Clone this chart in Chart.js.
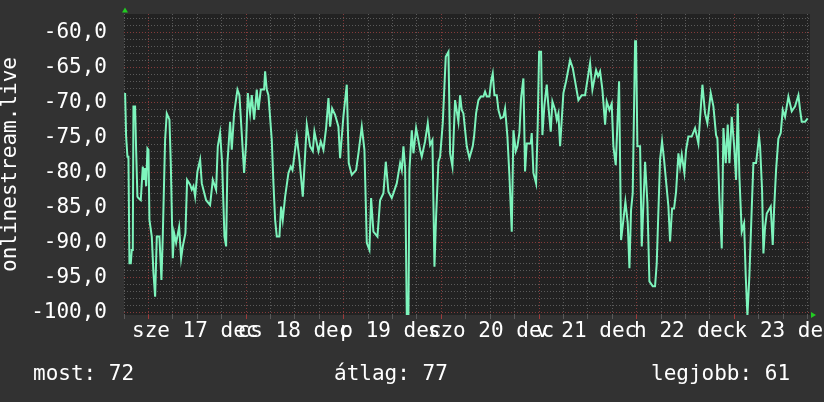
<!DOCTYPE html>
<html><head><meta charset="utf-8">
<script src="https://cdn.jsdelivr.net/npm/chart.js@4/dist/chart.umd.min.js"></script>
<style>html,body{margin:0;padding:0;background:#323232;overflow:hidden}canvas{display:block}</style>
</head><body>
<canvas id="c" width="824" height="402"></canvas>
<script>
// time in hours from midnight of "sze 17"
const hours = [
-5.73,-5.48,-5.15,-4.91,-4.66,-4.33,-4.09,-3.84,-3.68,-3.27,
-3.02,-2.70,-2.45,-1.88,-1.38,-1.06,-0.81,-0.56,-0.24,0.01,
0.25,0.83,1.24,1.65,2.06,2.71,3.20,3.53,4.10,4.51,
5.17,5.50,5.99,6.32,6.81,7.55,8.04,8.45,9.10,9.51,
10.25,10.66,11.07,11.48,12.05,12.71,13.12,14.18,15.16,15.82,
16.64,17.05,17.62,18.11,18.69,19.10,19.42,20.08,20.49,21.06,
21.88,22.37,23.52,24.01,24.42,24.99,25.40,25.98,26.63,27.04,
27.62,28.43,28.68,29.09,29.50,30.32,30.73,31.14,31.55,32.20,
32.61,33.02,33.60,34.42,34.99,35.40,35.64,36.46,37.12,37.94,
38.92,39.74,40.40,40.80,41.79,42.36,43.02,43.67,44.25,44.66,
45.15,45.88,46.70,47.11,47.93,48.75,49.24,49.98,51.04,51.62,
52.44,53.09,53.67,54.32,54.73,55.30,56.29,56.94,57.76,58.34,
58.99,59.81,61.04,61.86,62.27,62.68,63.09,63.50,63.91,64.15,
64.73,65.14,65.79,66.77,67.18,68.00,68.66,69.23,69.80,70.30,
70.71,71.28,71.69,72.34,73.08,73.74,74.15,74.72,75.37,76.19,
76.60,77.01,77.42,78.24,78.90,
79.71,80.04,80.53,81.11,81.68,82.33,82.74,83.15,83.81,84.22,
84.63,85.04,85.61,86.02,86.59,87.25,87.66,88.23,88.72,89.30,
89.71,90.28,90.69,91.18,91.59,92.16,92.57,92.98,93.97,94.21,
94.62,95.28,95.69,96.02,96.51,96.83,97.33,97.90,98.31,98.88,
99.29,99.95,100.36,100.77,101.18,101.99,102.65,103.63,104.29,105.68,
106.50,107.32,108.55,109.12,110.02,110.52,111.01,111.58,112.24,112.64,
113.30,113.87,114.28,114.86,115.68,116.17,116.74,117.23,117.81,118.22,
118.62,119.03,119.61,119.85,120.18,120.84,121.25,122.07,122.64,123.13,
123.95,124.52,124.93,125.75,126.24,126.73,127.80,128.21,128.70,129.19,
129.68,130.26,130.67,131.08,131.73,132.14,132.71,133.53,134.35,135.17,
135.58,136.16,136.81,137.38,138.20,138.86,139.51,139.84,140.33,140.91,
141.32,141.89,142.38,142.79,143.37,143.94,144.43,144.84,145.25,145.82,
146.40,146.81,147.22,147.71,148.28,148.69,149.35,150.08,150.33,150.82,
151.15,151.56,151.97,152.95,153.44,153.77,154.26,154.83,155.41,155.90,
156.47,157.29,158.11,158.93,159.75,160.16,160.57,161.39,162.04
];
const signal = [
-68.6,-74.8,-77.7,-77.7,-92.9,-92.9,-91.0,-91.0,-70.5,-70.5,
-76.7,-83.4,-83.6,-83.9,-79.1,-81.0,-79.3,-81.9,-76.5,-76.7,
-86.7,-89.1,-94.3,-97.7,-89.1,-89.1,-95.3,-89.1,-75.3,-71.5,
-72.4,-78.6,-92.2,-88.6,-90.0,-87.7,-92.2,-90.5,-88.6,-81.0,
-81.7,-82.4,-81.9,-83.4,-79.8,-78.1,-81.5,-83.9,-84.6,-81.0,
-82.4,-76.2,-74.3,-78.6,-89.1,-90.5,-78.6,-72.7,-76.7,-71.5,
-68.1,-68.9,-80.0,-75.8,-68.6,-71.5,-68.9,-72.4,-68.1,-71.0,
-68.1,-68.1,-65.5,-68.1,-68.9,-75.3,-81.5,-86.7,-89.1,-89.1,
-84.8,-86.7,-83.4,-80.0,-79.1,-79.6,-78.6,-74.8,-78.1,-83.4,
-73.1,-76.2,-76.9,-74.1,-76.9,-75.5,-76.7,-73.6,-69.3,-73.4,
-70.8,-71.7,-73.4,-77.9,-71.9,-67.4,-78.6,-80.3,-79.6,-77.2,
-73.4,-76.7,-90.0,-91.0,-83.6,-88.4,-89.1,-83.9,-82.9,-78.4,
-82.7,-83.6,-81.5,-78.6,-79.6,-76.2,-79.3,-100.4,-100.4,-79.6,
-73.9,-77.2,-73.6,-76.7,-77.7,-75.5,-72.9,-76.0,-75.3,-93.4,
-86.2,-78.4,-77.7,-72.9,-63.4,-62.7,-77.2,-79.1,-69.6,-72.7,
-68.9,-71.0,-71.5,-76.2,-77.9,
-76.2,-74.8,-71.5,-69.6,-69.1,-69.1,-68.4,-69.1,-69.1,-66.9,
-65.8,-68.9,-68.9,-71.0,-72.2,-72.0,-70.8,-74.8,-80.3,-88.4,
-73.9,-76.9,-76.2,-74.3,-69.3,-66.5,-79.8,-75.8,-75.8,-74.3,
-80.0,-81.5,-72.9,-62.7,-62.7,-74.6,-70.3,-67.4,-70.5,-74.1,
-69.8,-71.0,-72.4,-71.5,-76.2,-68.6,-66.9,-63.9,-65.0,-69.6,
-68.9,-68.9,-64.3,-68.1,-65.3,-66.2,-65.5,-68.1,-73.1,-69.8,
-71.0,-70.1,-76.2,-78.9,-66.9,-89.6,-86.7,-84.1,-87.2,-93.6,
-85.3,-82.9,-61.2,-61.2,-76.2,-76.2,-90.5,-78.4,-84.3,-95.5,
-96.2,-96.2,-92.9,-78.1,-75.5,-78.1,-84.8,-89.8,-85.1,-85.1,
-82.7,-77.2,-79.1,-77.4,-80.0,-76.7,-74.8,-74.8,-73.6,-75.8,
-72.2,-67.4,-71.5,-72.9,-68.6,-70.5,-74.6,-75.1,-83.6,-90.8,
-73.6,-78.6,-73.1,-78.6,-72.0,-76.0,-81.0,-70.1,-80.5,-88.4,
-87.2,-94.8,-100.4,-94.6,-85.1,-78.6,-78.6,-74.8,-76.2,-82.4,
-91.5,-87.7,-85.8,-84.8,-90.3,-85.3,-79.6,-75.1,-74.3,-71.0,
-72.0,-69.1,-71.2,-70.5,-68.9,-71.0,-72.7,-72.7,-72.2
];
const dayLabels = ['sze 17 dec','cs 18 dec','p 19 dec','szo 20 dec','v 21 dec','h 22 dec','k 23 dec'];
const dayLabelHours = [11.5, 35.9, 59.6, 84.2, 107.7, 131.8, 156.5];
const yAxisTitle = 'onlinestream.live';
const statLabels = ['most: 72', 'átlag: 77', 'legjobb: 61'];

const X_MIN = -6, X_MAX = 162.6, Y_MIN = -100.3, Y_MAX = -57.3;
const FONT = "'DejaVu Sans Mono', monospace";
const MAJOR = '#843a3a', MINOR = '#5a5a5a';

function isLabelTick(v){ return dayLabelHours.some(h => Math.abs(h - v) < 1e-6); }

const decor = {
  id: 'decor',
  beforeDraw(chart){
    const {ctx, chartArea: a} = chart;
    ctx.save();
    ctx.fillStyle = '#323232';
    ctx.fillRect(0, 0, chart.width, chart.height);
    ctx.fillStyle = '#222222';
    ctx.fillRect(a.left, a.top, a.right - a.left, a.bottom - a.top);
    ctx.restore();
  },
  afterDraw(chart){
    const {ctx, chartArea: a} = chart;
    ctx.save();
    ctx.fillStyle = '#22cc22';
    ctx.beginPath();
    ctx.moveTo(a.left - 2, a.top - 1.5); ctx.lineTo(a.left + 4, a.top - 1.5); ctx.lineTo(a.left + 1, a.top - 6.5); ctx.closePath(); ctx.fill();
    ctx.beginPath();
    ctx.moveTo(a.right + 1, a.bottom - 3); ctx.lineTo(a.right + 1, a.bottom + 3); ctx.lineTo(a.right + 6, a.bottom); ctx.closePath(); ctx.fill();
    ctx.fillStyle = '#ffffff';
    ctx.font = '21px ' + FONT;
    ctx.textBaseline = 'middle';
    ctx.textAlign = 'left';
    const xs = [33, 334, 651];
    statLabels.forEach((t, i) => ctx.fillText(t, xs[i], 375));
    ctx.restore();
  }
};

new Chart(document.getElementById('c'), {
  type: 'line',
  data: {
    datasets: [{
      data: hours.map((h, i) => ({x: h, y: signal[i]})),
      borderColor: '#7df4bc',
      borderWidth: 2,
      pointRadius: 0,
      tension: 0,
      fill: false
    }]
  },
  options: {
    responsive: false,
    animation: false,
    devicePixelRatio: 1,
    layout: {padding: {top: 14, right: 14, left: 0, bottom: 0}},
    plugins: {legend: {display: false}, tooltip: {enabled: false}},
    scales: {
      x: {
        type: 'linear', min: X_MIN, max: X_MAX,
        afterBuildTicks(s){
          const t = [];
          for (let h = -6; h <= 162; h += 6) t.push(h);
          dayLabelHours.forEach(h => t.push(h));
          t.sort((a, b) => a - b);
          s.ticks = t.map(v => ({value: v}));
        },
        afterFit(s){ s.height = 87; s.paddingLeft = 0; s.paddingRight = 0; },
        border: {display: false, dash: [1, 2]},
        grid: {
          color: c => isLabelTick(c.tick.value) ? 'rgba(0,0,0,0)' : (c.tick.value % 24 === 0 ? MAJOR : MINOR),
          tickColor: c => isLabelTick(c.tick.value) ? 'rgba(0,0,0,0)' : (c.tick.value % 24 === 0 ? '#a03a3a' : MINOR),
          lineWidth: 1, tickLength: 4, drawTicks: true
        },
        ticks: {
          autoSkip: false, maxRotation: 0, minRotation: 0, padding: 0,
          color: '#ffffff', font: {family: FONT, size: 21},
          callback: v => { const i = dayLabelHours.findIndex(h => Math.abs(h - v) < 1e-6); return i >= 0 ? dayLabels[i] : ''; }
        }
      },
      y: {
        type: 'linear', min: Y_MIN, max: Y_MAX,
        afterBuildTicks(s){
          const t = [];
          for (let v = -100; v <= -58; v += 1) t.push({value: v});
          s.ticks = t;
        },
        afterFit(s){ s.width = 124; s.paddingTop = 0; s.paddingBottom = 0; },
        border: {display: false, dash: [1, 2]},
        grid: {
          color: c => (c.tick.value % 5 === 0 ? MAJOR : MINOR),
          lineWidth: 1, drawTicks: false
        },
        ticks: {
          autoSkip: false, padding: 17, color: '#ffffff', font: {family: FONT, size: 21},
          callback: v => (v % 5 === 0 ? v.toFixed(1).replace('.', ',') : '')
        },
        title: {display: true, text: yAxisTitle, color: '#ffffff', padding: {top: 0, bottom: 0},
          font: {family: FONT, size: 21, lineHeight: 1}}
      }
    }
  },
  plugins: [decor]
});
</script>
</body></html>
